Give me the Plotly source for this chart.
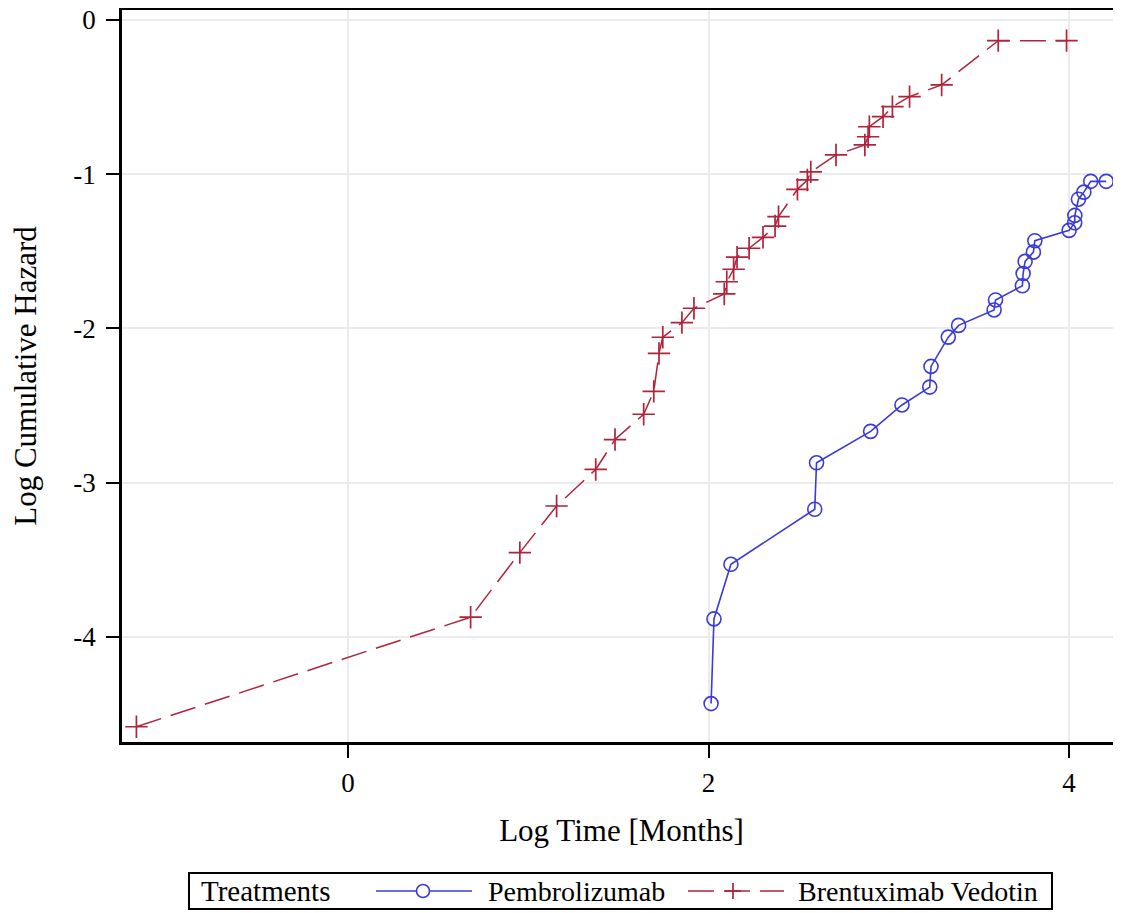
import plotly.graph_objects as go

# log time / log cumulative hazard
pembro_x = [2.014, 2.030, 2.124, 2.589, 2.599, 2.899, 3.073, 3.227, 3.234, 3.330,
            3.387, 3.584, 3.592, 3.741, 3.745, 3.756, 3.802, 3.810, 4.000, 4.031,
            4.032, 4.052, 4.082, 4.120, 4.206]
pembro_y = [-4.432, -3.883, -3.529, -3.172, -2.871, -2.667, -2.496, -2.380, -2.246, -2.056,
            -1.980, -1.880, -1.815, -1.723, -1.644, -1.565, -1.505, -1.431, -1.364, -1.315,
            -1.267, -1.162, -1.116, -1.046, -1.046]

brentux_x = [-1.174, 0.680, 0.953, 1.157, 1.374, 1.481, 1.640, 1.696, 1.725, 1.746,
             1.852, 1.919, 2.087, 2.101, 2.139, 2.158, 2.225, 2.302, 2.369, 2.388,
             2.493, 2.548, 2.567, 2.707, 2.867, 2.885, 2.892, 2.968, 3.020, 3.115,
             3.293, 3.607, 3.986]
brentux_y = [-4.582, -3.872, -3.453, -3.151, -2.914, -2.720, -2.556, -2.408, -2.162, -2.057,
             -1.962, -1.869, -1.776, -1.697, -1.616, -1.538, -1.480, -1.409, -1.336, -1.275,
             -1.098, -1.037, -0.985, -0.875, -0.810, -0.757, -0.692, -0.627, -0.562, -0.497,
             -0.421, -0.134, -0.134]

x_ticks = [0, 2, 4]
y_ticks = [0, -1, -2, -3, -4]
y_ticktext = ['0', '-1', '-2', '-3', '-4']

legend_title = 'Treatments'
series_names = ['Pembrolizumab', 'Brentuximab Vedotin']

BLUE = '#3A3AD8'
RED = '#B0233B'
RED_DASH = '26px,10px'

fig = go.Figure()

fig.add_trace(go.Scatter(
    x=pembro_x, y=pembro_y, name=series_names[0], mode='lines+markers',
    line=dict(color=BLUE, width=1.6),
    marker=dict(symbol='circle-open', size=14, color=BLUE, line=dict(width=1.6)),
))
fig.add_trace(go.Scatter(
    x=brentux_x, y=brentux_y, name=series_names[1], mode='lines+markers',
    line=dict(color=RED, width=1.5, dash=RED_DASH),
    marker=dict(symbol='cross-thin-open', size=16, color=RED, line=dict(width=1.7, color=RED)),
))

axis_common = dict(
    showline=True, linecolor='black', linewidth=2.5,
    ticks='outside', ticklen=13, tickwidth=2, tickcolor='black',
    showgrid=True, gridcolor='#EBEBEB', gridwidth=2,
    zeroline=False, tickfont=dict(size=27, color='black'),
    automargin=False, ticklabeloverflow='allow',
)

fig.update_xaxes(
    range=[-1.254, 4.288], tickvals=x_ticks, mirror=True,
    ticklabelstandoff=2,
    title=dict(text='Log Time [Months]', font=dict(size=31), standoff=23),
    **axis_common,
)
fig.update_yaxes(
    range=[-4.681, 0.0648], tickvals=y_ticks, ticktext=y_ticktext, mirror=False,
    ticklabelstandoff=5,
    title=dict(text='Log Cumulative Hazard', font=dict(size=31), standoff=45),
    **axis_common,
)

# SAS-style legend box below the plot, drawn in paper coords
# (page body adds 8px, so the plot area sits at 122..1121 x 10..742 on screen)
def px_x(p):
    return (p - 122) / 999.0

def px_y(p):
    return (742 - p) / 732.0

leg_y = px_y(891)
shapes = [
    dict(type='rect', xref='paper', yref='paper', x0=px_x(189), x1=px_x(1052),
         y0=px_y(873), y1=px_y(909), line=dict(color='black', width=2), fillcolor='white'),
    # Pembrolizumab: line + open circle
    dict(type='line', xref='paper', yref='paper', x0=px_x(376), x1=px_x(472),
         y0=leg_y, y1=leg_y, line=dict(color=BLUE, width=1.6)),
    dict(type='circle', xref='paper', yref='paper', xsizemode='pixel', ysizemode='pixel',
         xanchor=px_x(423), yanchor=leg_y, x0=-6.5, x1=6.5, y0=-6.5, y1=6.5,
         line=dict(color=BLUE, width=1.6), fillcolor='white'),
    # Brentuximab: dashed line + plus
    dict(type='line', xref='paper', yref='paper', x0=px_x(688), x1=px_x(784),
         y0=leg_y, y1=leg_y, line=dict(color=RED, width=1.5, dash=RED_DASH)),
    dict(type='line', xref='paper', yref='paper', xsizemode='pixel', ysizemode='pixel',
         xanchor=px_x(733), yanchor=leg_y, x0=-8, x1=8, y0=0, y1=0,
         line=dict(color=RED, width=1.7)),
    dict(type='line', xref='paper', yref='paper', xsizemode='pixel', ysizemode='pixel',
         xanchor=px_x(733), yanchor=leg_y, x0=0, x1=0, y0=-8, y1=8,
         line=dict(color=RED, width=1.7)),
]

annotations = [
    dict(text=legend_title, x=px_x(199), y=leg_y, font=dict(size=29, color='black')),
    dict(text=series_names[0], x=px_x(486), y=leg_y, font=dict(size=28, color='black')),
    dict(text=series_names[1], x=px_x(796), y=leg_y, font=dict(size=28, color='black')),
]
for a in annotations:
    a.update(xref='paper', yref='paper', xanchor='left', yanchor='middle', showarrow=False)

fig.update_layout(
    width=1121, height=913,
    margin=dict(l=114, r=8, t=2, b=179),
    plot_bgcolor='white', paper_bgcolor='white',
    font=dict(family='Liberation Serif', color='black'),
    showlegend=False,
    shapes=shapes,
    annotations=annotations,
)

fig.write_html('out.html')
